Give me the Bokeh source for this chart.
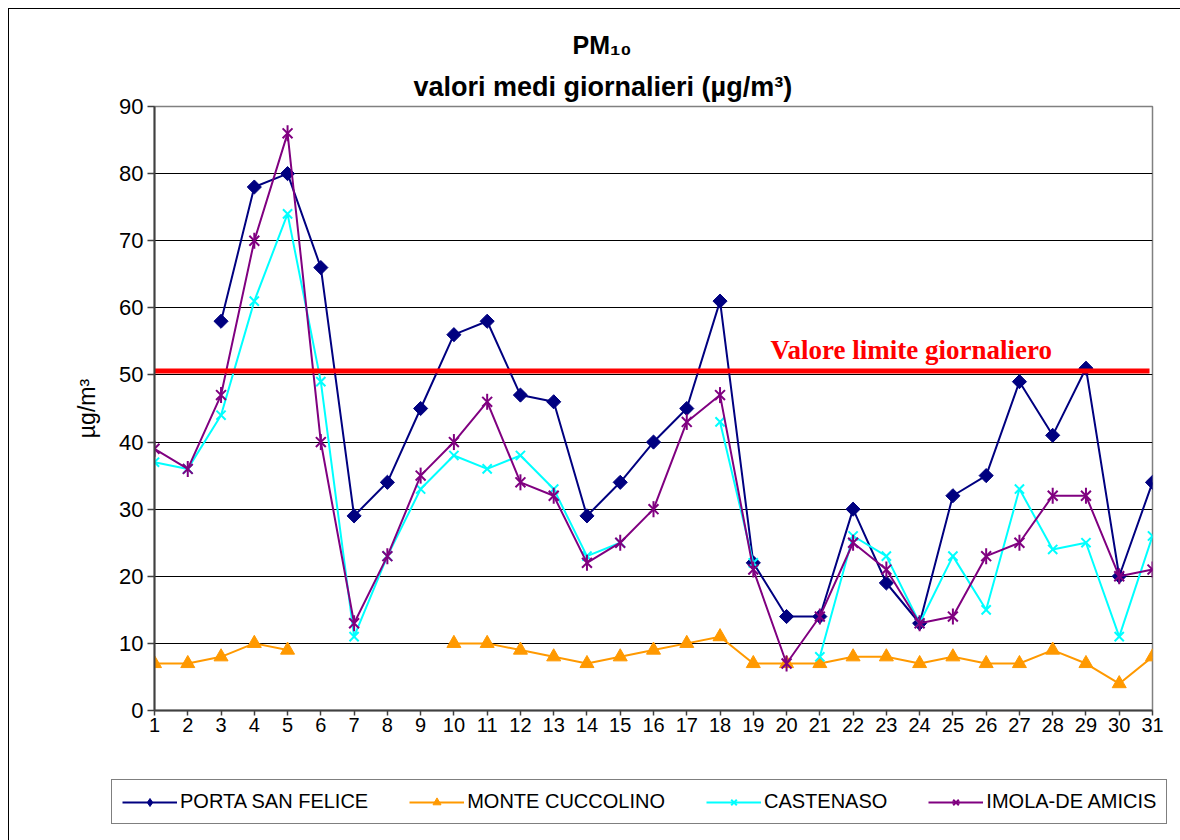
import math
from bokeh.plotting import figure
from bokeh.layouts import column
from bokeh.models import Range1d, FixedTicker, Label, Legend, LegendItem, Title
from bokeh.embed import file_html
from bokeh.resources import INLINE

nan = float("nan")

# ---- data -------------------------------------------------------------
DAYS = [1, 2, 3, 4, 5, 6, 7, 8, 9, 10, 11, 12, 13, 14, 15, 16,
        17, 18, 19, 20, 21, 22, 23, 24, 25, 26, 27, 28, 29, 30, 31]
PORTA_SAN_FELICE = [nan, nan, 58, 78, 80, 66, 29, 34, 45, 56, 58, 47, 46, 29, 34, 40,
                    45, 61, 22, 14, 14, 30, 19, 13, 32, 35, 49, 41, 51, 20, 34]
MONTE_CUCCOLINO = [7, 7, 8, 10, 9, nan, nan, nan, nan, 10, 10, 9, 8, 7, 8, 9,
                   10, 11, 7, 7, 7, 8, 8, 7, 8, 7, 7, 9, 7, 4, 8]
CASTENASO = [37, 36, 44, 61, 74, 49, 11, 23, 33, 38, 36, 38, 33, 23, 25, nan,
             nan, 43, 22, nan, 8, 26, 23, 13, 23, 15, 33, 24, 25, 11, 26]
IMOLA_DE_AMICIS = [39, 36, 47, 70, 86, 40, 13, 23, 35, 40, 46, 34, 32, 22, 25, 30,
                   43, 47, 21, 7, 14, 25, 21, 13, 14, 23, 25, 32, 32, 20, 21]
LIMIT_VALUE = 50.6
Y_TICKS = [0, 10, 20, 30, 40, 50, 60, 70, 80, 90]

SERIES_NAMES = ["PORTA SAN FELICE", "MONTE CUCCOLINO", "CASTENASO", "IMOLA-DE AMICIS"]
TITLE_1 = "PM₁₀"
TITLE_2 = "valori medi giornalieri (µg/m³)"
Y_LABEL = "µg/m³"
LIMIT_LABEL = "Valore limite giornaliero"

NAVY = "#000080"
ORANGE = "#FF9900"
CYAN = "#00FFFF"
PURPLE = "#800080"
SANS = "Liberation Sans"

# ---- layout (page pixels) --------------------------------------------
W, H_MAIN, H_LEG = 1180, 760, 80
FL, FR, FT, FB = 154, 1152, 106, 710  # frame edges in page px


def xd(px):
    return DAYS[0] + (px - FL) * (DAYS[-1] - DAYS[0]) / (FR - FL)


def yd(py):
    return (FB - py) * (Y_TICKS[-1] - Y_TICKS[0]) / (FB - FT)


p = figure(width=W, height=H_MAIN, output_backend="svg", toolbar_location=None,
           x_range=Range1d(DAYS[0], DAYS[-1]), y_range=Range1d(Y_TICKS[0], Y_TICKS[-1]),
           min_border_left=FL, min_border_right=W - FR,
           min_border_top=FT, min_border_bottom=H_MAIN - FB)
p.frame_align = False
p.background_fill_color = "white"
p.border_fill_color = None
p.outline_line_color = "#808080"
p.outline_line_width = 1.5

# titles (p.title is outermost, later 'above' titles sit nearer the frame)
p.title.text = TITLE_1
p.title.align = "left"
p.title.offset = 572 - FL
p.title.text_font = SANS
p.title.text_font_style = "bold"
p.title.text_font_size = "25px"
p.title.text_color = "black"
p.title.standoff = 12
p.add_layout(Title(text=TITLE_2, align="left", offset=413 - FL, text_font=SANS,
                   text_font_style="bold", text_font_size="27px", text_color="black",
                   standoff=10), "above")

p.xgrid.visible = False
p.ygrid.grid_line_color = "black"
p.ygrid.grid_line_width = 1
p.ygrid.ticker = FixedTicker(ticks=Y_TICKS)

p.yaxis.ticker = FixedTicker(ticks=Y_TICKS)
p.xaxis.ticker = FixedTicker(ticks=DAYS)
for ax in (p.xaxis[0], p.yaxis[0]):
    ax.axis_line_color = "#404040"
    ax.axis_line_width = 2
    ax.major_tick_line_color = "#404040"
    ax.major_tick_line_width = 1.5
    ax.major_tick_in = 0
    ax.minor_tick_line_color = None
    ax.major_label_text_font = SANS
    ax.major_label_text_color = "black"
p.yaxis.major_tick_out = 7
p.yaxis.major_label_standoff = 4
p.yaxis.major_label_text_font_size = "22px"
p.yaxis.axis_label = Y_LABEL
p.yaxis.axis_label_text_font = SANS
p.yaxis.axis_label_text_font_style = "normal"
p.yaxis.axis_label_text_font_size = "23px"
p.yaxis.axis_label_text_color = "black"
p.yaxis.axis_label_standoff = 16
p.xaxis.major_tick_out = 5
p.xaxis.major_label_standoff = 2
p.xaxis.major_label_text_font_size = "20px"


# ---- series ------------------------------------------------------------
def draw_series(fig, diamond_marker, diamond_angle, diamond_size):
    l1 = fig.line(DAYS, PORTA_SAN_FELICE, line_color=NAVY, line_width=2)
    s1 = fig.scatter(DAYS, PORTA_SAN_FELICE, marker=diamond_marker, angle=diamond_angle,
                     size=diamond_size, fill_color=NAVY, line_color=NAVY)
    l2 = fig.line(DAYS, MONTE_CUCCOLINO, line_color=ORANGE, line_width=2)
    s2 = fig.scatter(DAYS, MONTE_CUCCOLINO, marker="triangle", size=14,
                     fill_color=ORANGE, line_color=ORANGE)
    l3 = fig.line(DAYS, CASTENASO, line_color=CYAN, line_width=2)
    s3 = fig.scatter(DAYS, CASTENASO, marker="x", size=13, line_color=CYAN, line_width=2)
    l4 = fig.line(DAYS, IMOLA_DE_AMICIS, line_color=PURPLE, line_width=2)
    s4a = fig.scatter(DAYS, IMOLA_DE_AMICIS, marker="x", size=14, line_color=PURPLE,
                      line_width=2)
    s4b = fig.scatter(DAYS, IMOLA_DE_AMICIS, marker="dash", angle=math.pi / 2, size=16,
                      line_color=PURPLE, line_width=2)
    return [[l1, s1], [l2, s2], [l3, s3], [l4, s4a, s4b]]


draw_series(p, "square", math.pi / 4, 10)

# limit line
p.segment(x0=[DAYS[0]], y0=[LIMIT_VALUE], x1=[xd(1149)], y1=[LIMIT_VALUE],
          line_color="#FF0000", line_width=5)
p.add_layout(Label(x=xd(770), y=yd(349), text=LIMIT_LABEL, text_align="left",
                   text_baseline="alphabetic", text_font="Liberation Serif",
                   text_font_style="bold", text_font_size="27px", text_color="#FF0000"))

# ---- legend (separate strip below the chart) ------------------------------
lg = figure(width=W, height=H_LEG, output_backend="svg", toolbar_location=None,
            x_range=Range1d(-20, -10), y_range=Range1d(-20, -10),
            x_axis_location=None, y_axis_location=None, min_border=0)
lg.frame_align = False
lg.grid.visible = False
lg.outline_line_color = None
lg.background_fill_color = None
lg.border_fill_color = None
lg_renderers = draw_series(lg, "diamond", 0, 17)

items = [LegendItem(label=name, renderers=rs) for name, rs in zip(SERIES_NAMES, lg_renderers)]
legend = Legend(items=items, orientation="horizontal", location=(111, 16),
                label_text_font=SANS, label_text_font_size="20px", label_text_color="black",
                glyph_width=55, glyph_height=20, label_standoff=3, spacing=41,
                padding=10, margin=0, border_line_color="black", border_line_width=1.5,
                background_fill_color="white", background_fill_alpha=1.0)
lg.add_layout(legend)

page = column(p, lg, spacing=0)
page.styles = {
    "background": "linear-gradient(#000, #000) 8px 8px / 1px 100% no-repeat, "
                  "linear-gradient(#000, #000) 8px 8px / 100% 1px no-repeat, #fff"
}

open("out.html", "w").write(file_html(page, INLINE))
